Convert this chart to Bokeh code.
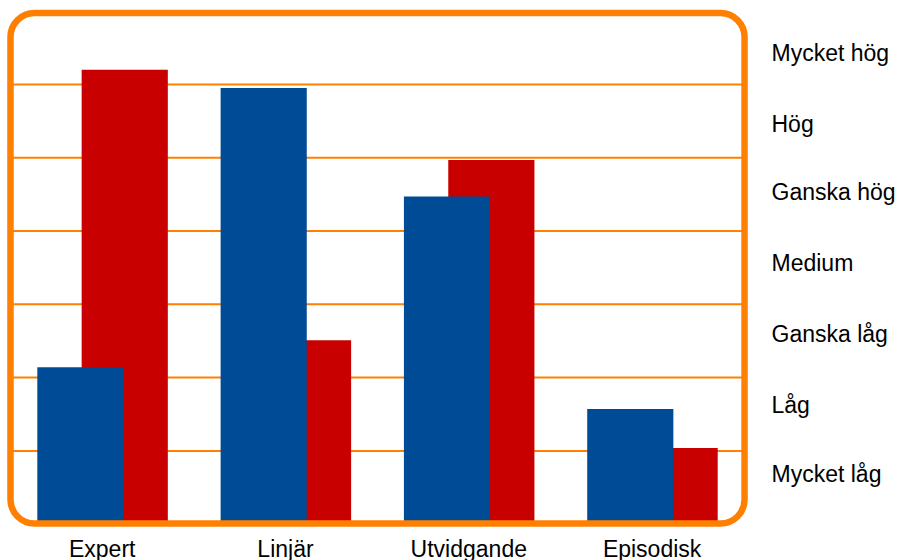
import numpy as np
from bokeh.plotting import figure
from bokeh.models import Range1d, FixedTicker, LinearAxis
from bokeh.embed import file_html
from bokeh.resources import INLINE

# ---- data ----
categories = ["Expert", "Linjär", "Utvidgande", "Episodisk"]
blue_values = [2.14, 5.95, 4.47, 1.57]
red_values = [6.20, 2.51, 4.97, 1.04]
level_labels = ["Mycket låg", "Låg", "Ganska låg", "Medium", "Ganska hög", "Hög", "Mycket hög"]
level_positions = [0.69, 1.63, 2.60, 3.57, 4.53, 5.46, 6.43]
grid_levels = [1, 2, 3, 4, 5, 6]

ORANGE = "#ff8000"
BLUE = "#004b96"
RED = "#c80000"
FONT = "Liberation Sans"

x_range = Range1d(-0.5548, 3.5641)
y_range = Range1d(-0.1405, 7.1446)

# outline box (centre of the rounded orange border), in data units
box_left, box_right, box_bottom, box_top = -0.5003, 3.5044, 0.0095, 6.9727

p = figure(width=900, height=560, x_range=x_range, y_range=y_range,
           output_backend="svg", toolbar_location=None,
           min_border_left=0, min_border_right=145, min_border_top=0, min_border_bottom=26,
           frame_width=755, frame_height=534, x_axis_location=None, y_axis_location=None)
p.background_fill_color = "white"
p.border_fill_color = "white"
p.outline_line_color = None
p.xgrid.visible = False
p.ygrid.visible = False

# horizontal grid lines inside the box
p.segment(x0=[box_left] * len(grid_levels), x1=[box_right] * len(grid_levels),
          y0=grid_levels, y1=grid_levels, line_color=ORANGE, line_width=2)

idx = np.arange(len(categories))
bar_w = 0.47
p.vbar(x=idx + 0.123, top=red_values, bottom=0, width=bar_w, fill_color=RED, line_color=None)
p.vbar(x=idx - 0.119, top=blue_values, bottom=0, width=bar_w, fill_color=BLUE, line_color=None)

# rounded orange frame
p.quad(left=[box_left], right=[box_right], top=[box_top], bottom=[box_bottom],
       fill_color=None, line_color=ORANGE, line_width=6.5, border_radius=24)

def style_axis(ax):
    ax.axis_line_color = None
    ax.major_tick_line_color = None
    ax.minor_tick_line_color = None
    ax.major_tick_in = 0
    ax.major_tick_out = 0
    ax.minor_tick_in = 0
    ax.minor_tick_out = 0
    ax.major_label_text_font = FONT
    ax.major_label_text_font_size = "23px"
    ax.major_label_text_color = "black"

xaxis = LinearAxis(ticker=FixedTicker(ticks=list(idx)),
                   major_label_overrides={int(i): c for i, c in zip(idx, categories)})
style_axis(xaxis)
xaxis.major_label_standoff = 1
p.add_layout(xaxis, "below")

yaxis = LinearAxis(ticker=FixedTicker(ticks=level_positions),
                   major_label_overrides={v: t for v, t in zip(level_positions, level_labels)})
style_axis(yaxis)
yaxis.major_label_standoff = 16
yaxis.major_label_text_align = "left"
p.add_layout(yaxis, "right")

open("out.html", "w").write(file_html(p, INLINE))
